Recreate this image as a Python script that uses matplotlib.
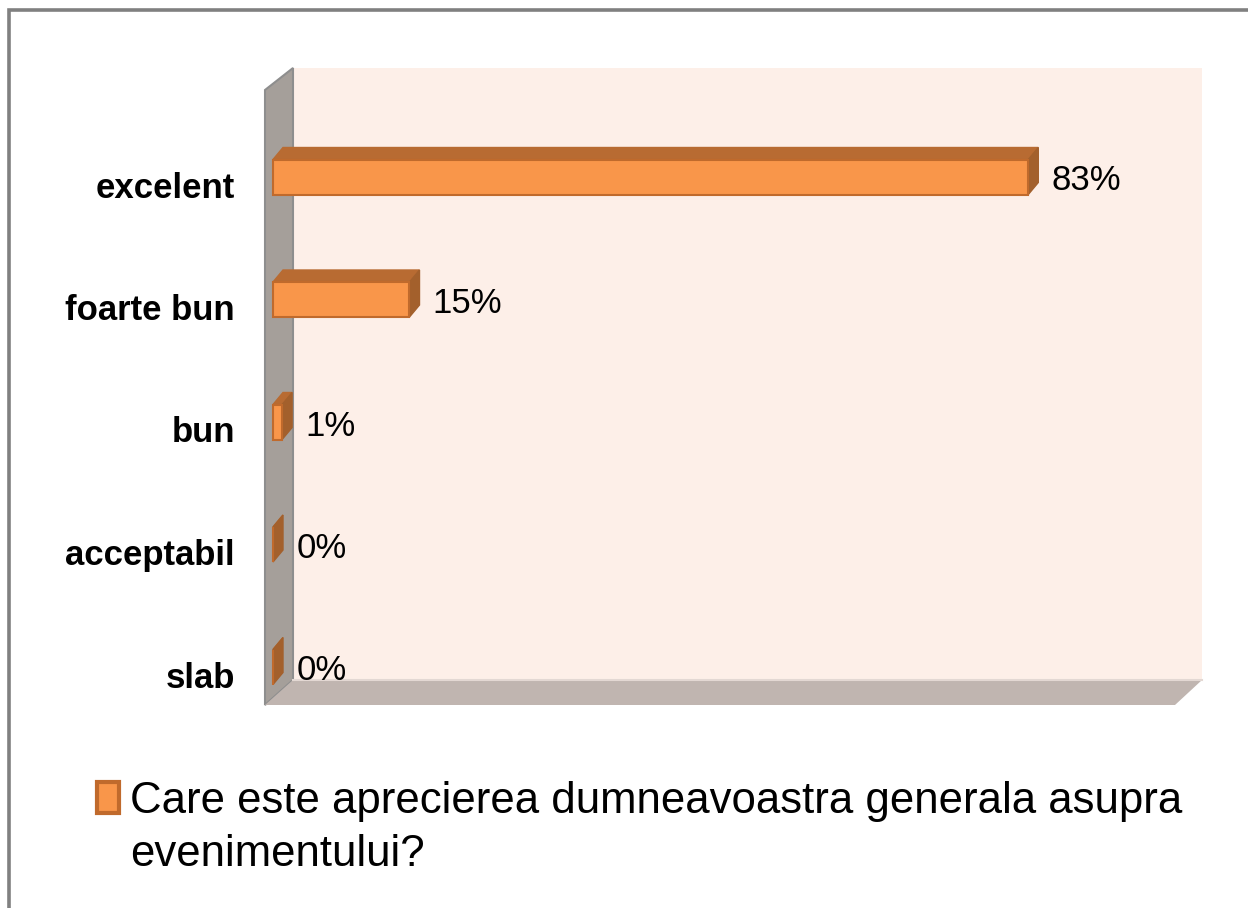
#!/usr/bin/env python3
import matplotlib
matplotlib.use("Agg")
import matplotlib.pyplot as plt
from matplotlib.patches import Polygon, Rectangle

# data, top to bottom as in the chart
categories = ["excelent", "foarte bun", "bun", "acceptabil", "slab"]
values = [83, 15, 1, 0, 0]
value_labels = ["83%", "15%", "1%", "0%", "0%"]
series_name = "Care este aprecierea dumneavoastra generala asupra\nevenimentului?"

plt.rcParams['font.family'] = ['Liberation Sans', 'DejaVu Sans']

W, H = 1248, 908
X0_PX = 273      # pixel where 0 % sits
X_SCALE = 9.1    # pixels per percent
Y0_PX = 667      # pixel of the lowest category
Y_STEP = 122.5   # pixels between categories

FRONT = '#F9964A'
EDGE = '#C06A2C'
TOP = '#B86B32'
SIDE = '#A3602C'


def px_x(px):
    return (px - X0_PX) / X_SCALE


def px_y(py):
    return (Y0_PX - py) / Y_STEP


fig = plt.figure(figsize=(W / 100, H / 100), dpi=100)
ax = fig.add_axes([0, 0, 1, 1])
ax.set_xlim(px_x(0), px_x(W))
ax.set_ylim(px_y(H), px_y(0))
ax.axis('off')

# outer frame (only top and left visible in the original)
fig.add_artist(Rectangle((8.5 / W, -0.2), 1.2, 1.2 - 9.5 / H,
                         transform=fig.transFigure, fill=False,
                         edgecolor='#808080', linewidth=2.6))

# walls and floor of the 3D box
ax.add_patch(Polygon([(px_x(293), px_y(68)), (px_x(1202), px_y(68)),
                      (px_x(1202), px_y(680)), (px_x(293), px_y(680))],
                     facecolor='#FDEFE8', edgecolor='none', zorder=1))
ax.add_patch(Polygon([(px_x(265), px_y(90)), (px_x(293), px_y(68)),
                      (px_x(293), px_y(680)), (px_x(265), px_y(705))],
                     facecolor='#A59F9A', edgecolor='#8E8E8E', linewidth=1.5, zorder=2))
ax.add_patch(Polygon([(px_x(265), px_y(705)), (px_x(293), px_y(680)),
                      (px_x(1202), px_y(680)), (px_x(1175), px_y(705))],
                     facecolor='#C0B5B0', edgecolor='none', zorder=2))
ax.plot([px_x(293), px_x(1202)], [px_y(680), px_y(680)], color='#E3D8D3', lw=1.5, zorder=2)

# bars with a simple depth effect
ypos = [len(categories) - 1 - i for i in range(len(categories))]
bar_h = 35 / Y_STEP
ddx = 10 / X_SCALE
ddy = 12 / Y_STEP

for y, v in zip(ypos, values):
    top = y + bar_h / 2
    bot = y - bar_h / 2
    ax.fill([0, v, v + ddx, ddx], [top, top, top + ddy, top + ddy],
            color=TOP, zorder=4)
    ax.fill([v, v + ddx, v + ddx, v], [bot, bot + ddy, top + ddy, top],
            color=SIDE, zorder=4)
ax.barh(ypos, values, height=bar_h, color=FRONT, edgecolor=EDGE,
        linewidth=1.5, zorder=5)

# value labels and category labels
for y, v, lab in zip(ypos, values, value_labels):
    ax.text(v + ddx + 1.45, y - 4 / Y_STEP, lab, ha='left', va='center',
            fontsize=25, zorder=6)
for y, cat in zip(ypos, categories):
    ax.text(px_x(235), y - 11 / Y_STEP, cat, ha='right', va='center',
            fontsize=25, fontweight='bold')

# legend: key box next to the first line of the two-line series name
fig.add_artist(Rectangle((97 / W, 1 - 813 / H), 22 / W, 31 / H,
                         transform=fig.transFigure, facecolor=FRONT,
                         edgecolor=EDGE, linewidth=3))
fig.text(130 / W, 1 - 781 / H, series_name, ha='left', va='top',
         fontsize=31.5, linespacing=1.38)

fig.savefig('out.png', dpi=100)
